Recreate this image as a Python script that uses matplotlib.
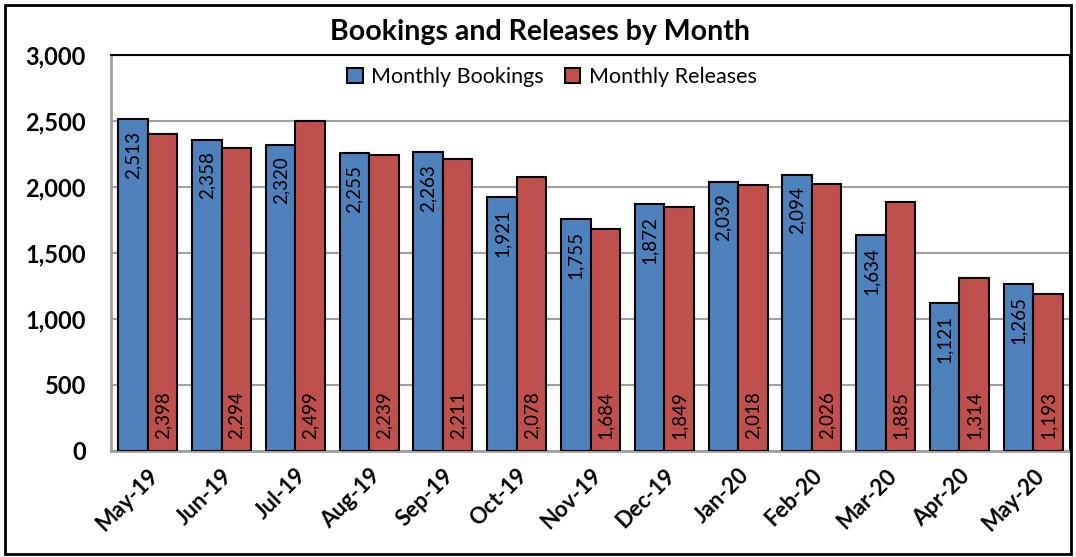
import matplotlib

matplotlib.use("Agg")
import matplotlib.pyplot as plt
import numpy as np
from matplotlib.patches import Rectangle

months = ["May-19", "Jun-19", "Jul-19", "Aug-19", "Sep-19", "Oct-19", "Nov-19",
          "Dec-19", "Jan-20", "Feb-20", "Mar-20", "Apr-20", "May-20"]
bookings = [2513, 2358, 2320, 2255, 2263, 1921, 1755, 1872, 2039, 2094, 1634, 1121, 1265]
releases = [2398, 2294, 2499, 2239, 2211, 2078, 1684, 1849, 2018, 2026, 1885, 1314, 1193]
y_ticks = [0, 500, 1000, 1500, 2000, 2500, 3000]

BLUE = "#4F81BD"
RED = "#C0504D"

plt.rcParams["font.family"] = ["Lato", "DejaVu Sans"]

fig = plt.figure(figsize=(10.76, 5.57), dpi=100)
ax = fig.add_axes([111 / 1076, 1 - 451 / 557, (1070 - 111) / 1076, (451 - 55) / 557])

x = np.arange(len(months))
w = 0.4
ax.bar(x - w / 2, bookings, w, color=BLUE, edgecolor="black", linewidth=1.5,
       label="Monthly Bookings", zorder=3)
ax.bar(x + w / 2, releases, w, color=RED, edgecolor="black", linewidth=1.5,
       label="Monthly Releases", zorder=3)

# blue labels sit inside the top of the bar, red ones at the base
for xi, v in zip(x, bookings):
    ax.text(xi - w / 2, v - 90, f"{v:,}", rotation=90, ha="center", va="top",
            fontsize=13.5, zorder=4)
for xi, v in zip(x, releases):
    ax.text(xi + w / 2, 90, f"{v:,}", rotation=90, ha="center", va="bottom",
            fontsize=13.5, zorder=4)

ax.set_xlim(-0.5, len(months) - 0.5)
ax.set_ylim(0, 3000)
ax.set_yticks(y_ticks)
ax.set_yticklabels([f"{t:,}" for t in y_ticks], fontsize=17, fontweight="bold")
ax.set_xticks(x)
ax.set_xticklabels(months, rotation=45, ha="right", rotation_mode="anchor",
                   fontsize=16, fontweight="bold")
ax.tick_params(axis="y", length=0, pad=18)
ax.tick_params(axis="x", length=0, pad=10)
ax.grid(True, axis="y", color="#A0A0A0", linewidth=1.5, zorder=0)

for side in ("left", "bottom"):
    ax.spines[side].set_color("#A0A0A0")
    ax.spines[side].set_linewidth(2)
for side in ("top", "right"):
    ax.spines[side].set_color("black")
    ax.spines[side].set_linewidth(1.5)

ax.legend(loc="upper center", bbox_to_anchor=(0.46, 1.0), ncol=2, frameon=False,
          fontsize=15.5, handlelength=0.7, handleheight=0.7, handletextpad=0.4,
          columnspacing=1.0, borderaxespad=0.15)

fig.text(540 / 1076, 1 - 32 / 557, "Bookings and Releases by Month", ha="center",
         va="center", fontsize=20.5, fontweight="bold")

fig.patches.append(Rectangle((5 / 1076, 3 / 557), 1066 / 1076, 549 / 557,
                             transform=fig.transFigure, fill=False,
                             edgecolor="black", linewidth=2))

fig.savefig("out.png", dpi=100)
